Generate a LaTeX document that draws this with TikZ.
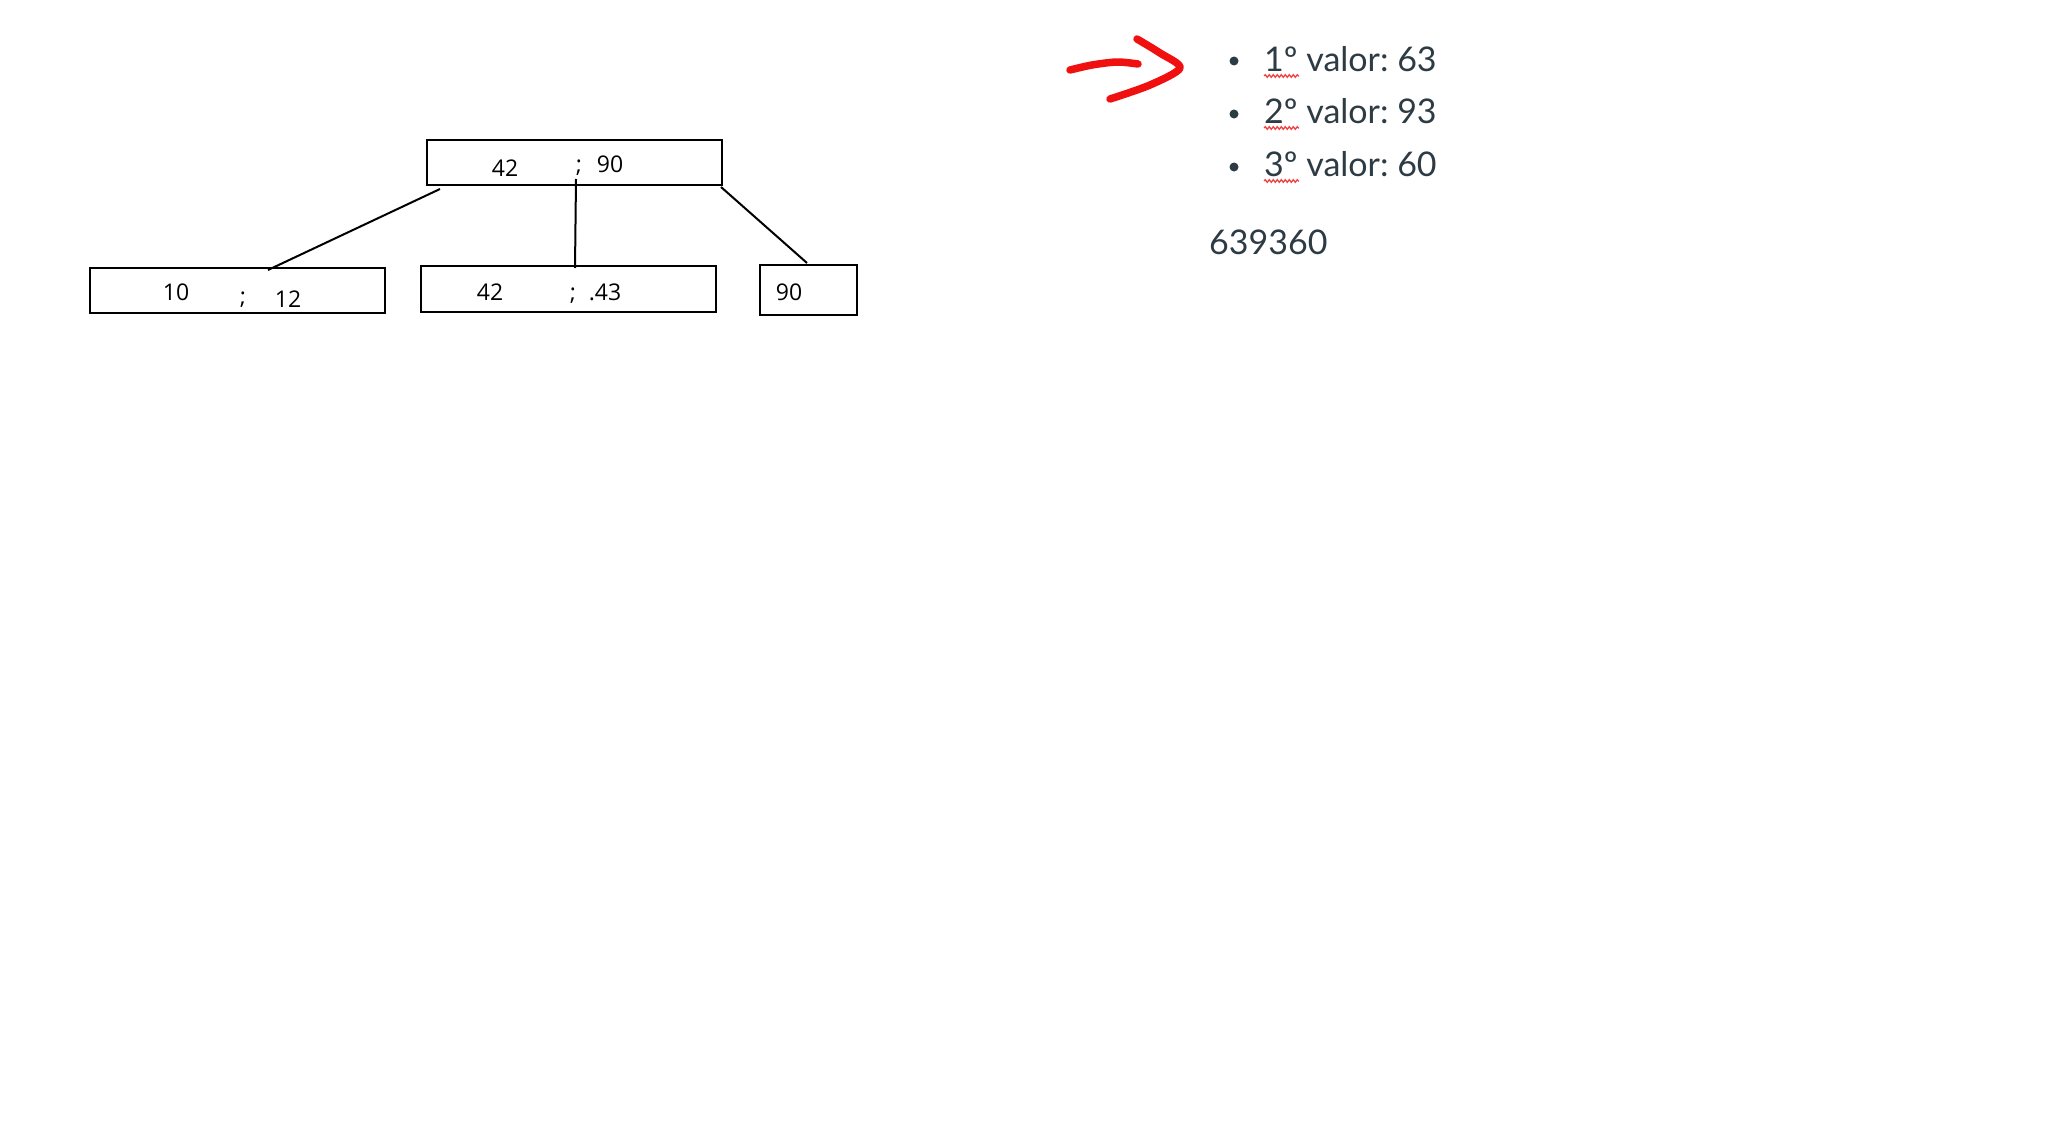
\documentclass[tikz,border=0pt]{standalone}
\usepackage{fontspec}
\setmainfont{Open Sans}
\newfontfamily\latofont{Lato}
\usetikzlibrary{decorations.pathmorphing}
\definecolor{txt}{HTML}{2D3B45}
\definecolor{pen}{HTML}{F01010}
\definecolor{spell}{HTML}{F04040}
\frenchspacing
\begin{document}
\begin{tikzpicture}[x=1pt,y=-1pt,
  keybox/.style={draw=black,line width=2pt,inner sep=0pt,minimum width=#1},
  keytxt/.style={anchor=base,inner sep=0pt,font=\fontsize{23}{27}\selectfont},
  edge/.style={draw=black,line width=2pt},
  item/.style={anchor=base west,inner sep=0pt,text=txt,font=\latofont\fontsize{34}{40}\selectfont},
  dot/.style={fill=txt,draw=none,circle,inner sep=0pt,minimum size=9pt},
  wavy/.style={draw=spell,line width=1.3pt,decorate,decoration={snake,amplitude=1.3pt,segment length=4pt}},
  redpen/.style={draw=pen,line width=7.5pt,line cap=round,line join=round}]
\useasboundingbox (0,0) rectangle (2048,1148);
% tree boxes
\node[keybox=295pt,minimum height=45pt] (root) at (574.5,162.5) {};
\node[keybox=295pt,minimum height=45pt] (left) at (237.5,290.5) {};
\node[keybox=295pt,minimum height=46pt] (mid) at (568.5,289) {};
\node[keybox=97pt,minimum height=50pt] (right) at (808.5,290) {};
% keys
\node[keytxt] (r1) at (505,176) {42};
\node[keytxt] (rs) at (579,172) {;};
\node[keytxt] (r2) at (610,172) {90};
\node[keytxt] (l1) at (176,300) {10};
\node[keytxt] (ls) at (243,304) {;};
\node[keytxt] (l2) at (288,307) {12};
\node[keytxt] (m1) at (490,300) {42};
\node[keytxt] (ms) at (573,300) {;};
\node[keytxt] (m2) at (605,300) {.43};
\node[keytxt] (g1) at (789,300) {90};
% connector end points
\coordinate (a1) at (440,189);
\coordinate (a2) at (268,270);
\coordinate (b1) at (576,179);
\coordinate (b2) at (575,268);
\coordinate (c1) at (721,187);
\coordinate (c2) at (807,263);
\draw[edge] (a1) -- (a2);
\draw[edge] (b1) -- (b2);
\draw[edge] (c1) -- (c2);
% list
\node[dot] (d1) at (1234,61) {};
\node[dot] (d2) at (1234,114) {};
\node[dot] (d3) at (1234,167) {};
\node[item] (t1) at (1264,71) {1º valor: 63};
\node[item] (t2) at (1264,123) {2º valor: 93};
\node[item] (t3) at (1264,176) {3º valor: 60};
\node[item] (num) at (1209,254) {639360};
\coordinate (w1a) at (1264,76); \coordinate (w1b) at (1299,76);
\coordinate (w2a) at (1264,128); \coordinate (w2b) at (1299,128);
\coordinate (w3a) at (1264,181); \coordinate (w3b) at (1299,181);
\draw[wavy] (w1a) -- (w1b);
\draw[wavy] (w2a) -- (w2b);
\draw[wavy] (w3a) -- (w3b);
% red hand-drawn arrow
\draw[redpen] plot[smooth] coordinates {(1070,70) (1092,65) (1117,62) (1138,64)};
\draw[redpen] plot[smooth] coordinates {(1137,39) (1160,53) (1180,68) (1150,85) (1110,99)};
\end{tikzpicture}
\end{document}
